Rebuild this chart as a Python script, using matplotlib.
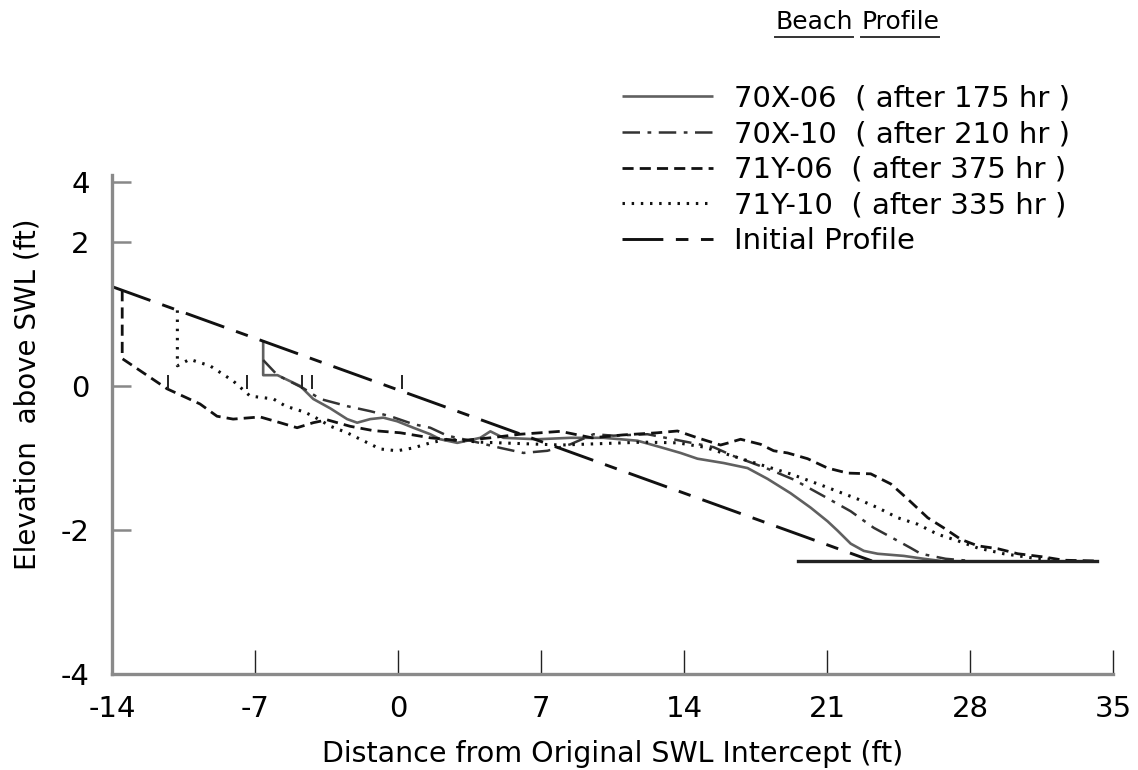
import matplotlib
matplotlib.use('Agg')
import matplotlib.pyplot as plt
from matplotlib.lines import Line2D

# ---- data (ft) ----
INIT_X = [-14.0, 23.2]
INIT_Y = [1.38, -2.43]

FLOOR_X = [19.6, 34.2]
FLOOR_Y = [-2.43, -2.43]

X_70X06 = [-6.6, -6.6, -5.9, -4.79, -4.15, -3.32, -2.49, -2.0, -1.36, -0.72, -0.04, 0.75,
           1.58, 2.07, 2.9, 4.03, 4.52, 5.16, 6.82, 8.44, 10.06, 11.72, 12.85, 13.83,
           14.66, 15.94, 17.11, 18.09, 19.22, 20.2, 21.03, 21.52, 22.16, 22.8, 23.48,
           24.76, 25.74, 26.57]
Y_70X06 = [0.63, 0.15, 0.15, 0.0, -0.18, -0.31, -0.46, -0.51, -0.46, -0.44, -0.49, -0.58,
           -0.67, -0.74, -0.79, -0.72, -0.63, -0.72, -0.74, -0.72, -0.72, -0.76, -0.85, -0.93,
           -1.01, -1.07, -1.14, -1.29, -1.49, -1.69, -1.88, -2.01, -2.19, -2.29, -2.33,
           -2.36, -2.40, -2.43]

X_70X10 = [-6.6, -5.9, -4.64, -3.81, -2.49, -1.36, -0.38, 0.75, 1.58, 2.41, 3.54, 5.01,
           6.14, 7.31, 8.44, 9.57, 10.55, 12.21, 13.83, 15.45, 16.4, 18.1, 19.37, 20.84,
           22.16, 23.29, 24.46, 25.1, 25.59, 26.81, 28.04]
Y_70X10 = [0.36, 0.15, -0.03, -0.18, -0.28, -0.35, -0.42, -0.53, -0.58, -0.69, -0.76, -0.86,
           -0.93, -0.90, -0.81, -0.67, -0.69, -0.67, -0.76, -0.85, -0.97, -1.15, -1.30, -1.53,
           -1.74, -1.97, -2.15, -2.25, -2.33, -2.40, -2.43]

X_71Y06 = [-13.5, -13.5, -11.3, -9.69, -8.86, -8.07, -6.75, -5.77, -4.94, -4.15, -3.47,
           -2.34, -1.21, 0.11, 1.58, 3.05, 4.52, 5.99, 7.95, 9.5, 11.0, 12.7, 13.68, 14.66,
           15.79, 16.18, 16.77, 17.75, 18.39, 19.07, 20.05, 21.03, 22.01, 23.14, 24.12,
           24.95, 25.93, 26.71, 27.55, 28.38, 29.36, 30.34, 31.62, 32.59, 34.16]
Y_71Y06 = [1.33, 0.38, -0.04, -0.25, -0.42, -0.46, -0.43, -0.51, -0.58, -0.51, -0.47,
           -0.56, -0.62, -0.65, -0.72, -0.76, -0.72, -0.67, -0.63, -0.72, -0.68, -0.65, -0.625,
           -0.72, -0.82, -0.79, -0.74, -0.81, -0.90, -0.93, -1.01, -1.14, -1.21, -1.22, -1.36,
           -1.57, -1.83, -1.97, -2.13, -2.22, -2.26, -2.33, -2.375, -2.42, -2.43]

X_71Y10 = [-10.8, -10.8, -10.2, -9.2, -8.07, -7.24, -6.1, -5.5, -4.6, -4.15, -3.3, -2.49,
           -1.7, -0.87, -0.04, 0.75, 1.58, 2.41, 4.0, 6.0, 8.0, 10.0, 12.0, 13.7, 15.0,
           15.9, 17.6, 19.2, 20.84, 22.5, 23.48, 24.46, 25.44, 26.42, 27.4, 28.38, 29.65,
           31.1, 32.6]
Y_71Y10 = [1.05, 0.28, 0.37, 0.28, 0.07, -0.14, -0.18, -0.28, -0.36, -0.42, -0.56, -0.65,
           -0.76, -0.875, -0.90, -0.86, -0.79, -0.74, -0.78, -0.80, -0.82, -0.80, -0.78, -0.79,
           -0.85, -0.93, -1.08, -1.22, -1.39, -1.57, -1.69, -1.83, -1.92, -2.06, -2.15, -2.25,
           -2.33, -2.39, -2.42]

# small vertical marks at the still-water line
SWL_MARKS_X = [-11.26, -7.39, -4.69, -4.2, 0.21]
SWL_MARK_LOW, SWL_MARK_HIGH = -0.04, 0.15

X_TICKS = [-14, -7, 0, 7, 14, 21, 28, 35]
X_TICK_LABELS = ['-14', '-7', '0', '7', '14', '21', '28', '35']
# the original axis is squeezed at the top: its "4" tick sits just above 2.8
Y_TICKS = [-4, -2, 0, 2, 2.83]
Y_TICK_LABELS = ['-4', '-2', '0', '2', '4']

LABELS = ['70X-06  ( after 175 hr )', '70X-10  ( after 210 hr )',
          '71Y-06  ( after 375 hr )', '71Y-10  ( after 335 hr )', 'Initial Profile']

plt.rcParams['font.family'] = 'DejaVu Sans'

fig = plt.figure(figsize=(11.38, 7.7), dpi=100)
ax = fig.add_axes([112 / 1138, 96 / 770, 1001 / 1138, 499 / 770])

h1, = ax.plot(X_70X06, Y_70X06, color='#606060', lw=1.9, solid_capstyle='butt')
h2, = ax.plot(X_70X10, Y_70X10, color='#333333', lw=1.8, dashes=(7, 3, 1.5, 3))
h3, = ax.plot(X_71Y06, Y_71Y06, color='#111111', lw=2.0, dashes=(4, 2.2))
h4, = ax.plot(X_71Y10, Y_71Y10, color='#111111', lw=2.2, dashes=(0.8, 2.2))
h5, = ax.plot(INIT_X, INIT_Y, color='#111111', lw=2.1, dashes=(14, 4.3, 4.3, 4.3))
ax.plot(FLOOR_X, FLOOR_Y, color='#222222', lw=2.4)
ax.vlines(SWL_MARKS_X, SWL_MARK_LOW, SWL_MARK_HIGH, color='#222222', lw=1.4)

ax.set_xlim(-14, 35)
ax.set_ylim(-4, 2.93)
ax.set_xticks(X_TICKS)
ax.set_xticklabels(X_TICK_LABELS)
ax.set_yticks(Y_TICKS)
ax.set_yticklabels(Y_TICK_LABELS)
ax.tick_params(axis='x', direction='in', length=17, width=1.0, color='#222222',
               labelsize=21, pad=15)
ax.tick_params(axis='y', direction='in', length=14, width=1.8, color='#888888',
               labelsize=21, pad=16)

for side in ['top', 'right']:
    ax.spines[side].set_visible(False)
for side in ['left', 'bottom']:
    ax.spines[side].set_color('#8a8a8a')
    ax.spines[side].set_linewidth(2.4)

ax.set_xlabel('Distance from Original SWL Intercept (ft)', fontsize=20.5, labelpad=12)
ax.set_ylabel('Elevation  above SWL (ft)', fontsize=20, labelpad=10)
ax.yaxis.set_label_coords(-0.07, 0.56)

leg = ax.legend([h1, h2, h3, h4, h5], LABELS, loc='upper left',
                bbox_to_anchor=(607 / 1138, 1 - 70 / 770), bbox_transform=fig.transFigure,
                frameon=False, fontsize=21, handlelength=3.15, handletextpad=0.7,
                labelspacing=0.26, borderpad=0)

# underlined heading
t1 = fig.text(853 / 1138, 1 - 22 / 770, 'Beach', ha='right', va='center', fontsize=18)
t2 = fig.text(861 / 1138, 1 - 22 / 770, 'Profile', ha='left', va='center', fontsize=18)
fig.canvas.draw()
r = fig.canvas.get_renderer()
for t in (t1, t2):
    bb = t.get_window_extent(r).transformed(fig.transFigure.inverted())
    fig.add_artist(Line2D([bb.x0, bb.x1], [bb.y0 - 0.004, bb.y0 - 0.004],
                          transform=fig.transFigure, color='#333333', lw=1.4))

fig.savefig('out.png', dpi=100)
